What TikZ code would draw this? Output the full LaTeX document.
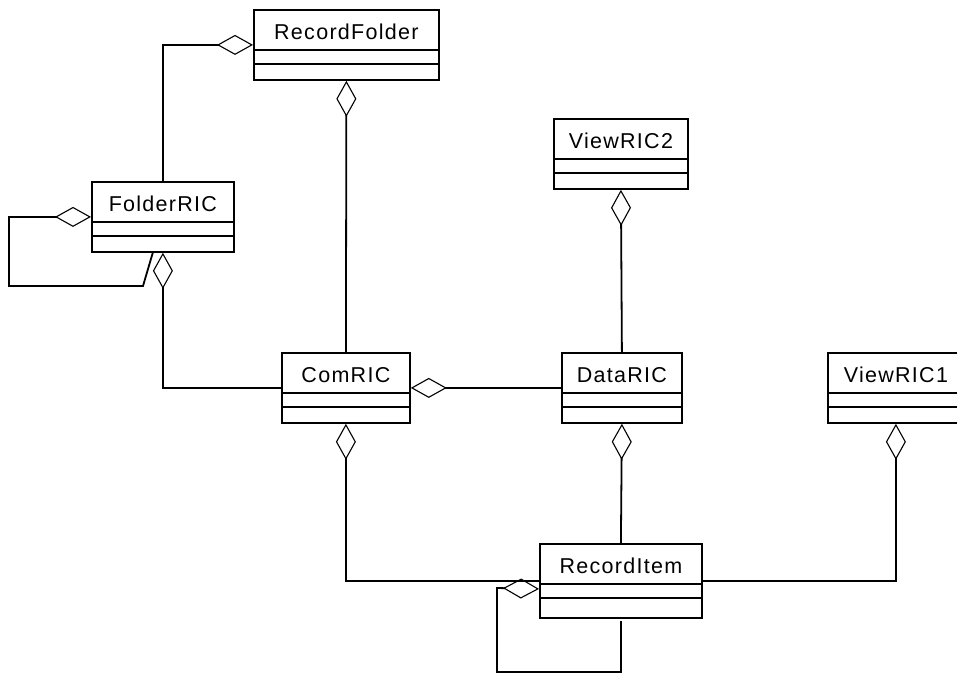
\documentclass[tikz,border=0pt]{standalone}
\usepackage{fontspec}
\setmainfont[LetterSpace=6]{Liberation Sans}
\usetikzlibrary{arrows.meta}

\begin{document}
\begin{tikzpicture}[x=1pt, y=-1pt]

% Define the node styles
\tikzstyle{umlclass}=[draw, line width=1.8pt, rectangle, anchor=north west, inner sep=0pt,
  text height=30pt, text depth=40pt, font=\fontsize{21.5}{25}\selectfont,
  path picture={\draw[line width=1.8pt]
    ([yshift=-40pt]path picture bounding box.north west) -- ([yshift=-40pt]path picture bounding box.north east)
    ([yshift=-54pt]path picture bounding box.north west) -- ([yshift=-54pt]path picture bounding box.north east);}]
\tikzstyle{aggr}=[line width=1.8pt, -{Diamond[open, length=36pt, width=20pt, line width=1.1pt]}]

\useasboundingbox (0,0) rectangle (957,673);
\clip (0,0) rectangle (957,673);

% Define the nodes
\node[umlclass, minimum width=185pt] (recordfolder) at (253,9) {RecordFolder};
\node[umlclass, minimum width=142pt] (folderric) at (91,181) {FolderRIC};
\node[umlclass, minimum width=134pt] (viewric2) at (553,118) {ViewRIC2};
\node[umlclass, minimum width=128pt] (comric) at (281,352) {ComRIC};
\node[umlclass, minimum width=120pt] (dataric) at (561,352) {DataRIC};
\node[umlclass, minimum width=136pt] (viewric1) at (827,352) {ViewRIC1};
\node[umlclass, minimum width=162pt, text depth=44pt] (recorditem) at (539,543) {RecordItem};
\coordinate (folderloop) at (153,252);
\coordinate (itemloop) at (621,621);

% Add the edges
\path[aggr] (comric.north) edge (recordfolder.south)
            (dataric.west) edge (comric.east)
            (dataric.north) edge (viewric2.south)
            (recorditem.north) edge (dataric.south);
\draw[aggr] (folderric.north) |- (recordfolder.west);
\draw[aggr] (comric.west) -| (folderric.south);
\draw[aggr] (recorditem.west) -| (comric.south);
\draw[aggr] (recorditem.east) -| (viewric1.south);
\draw[aggr] (folderloop) -- (143,286) -- (9,286) |- (folderric.west);
\draw[aggr] (itemloop) -- (621,672) -| (497,588) -- ([yshift=-8pt]recorditem.west);

\end{tikzpicture}
\end{document}
